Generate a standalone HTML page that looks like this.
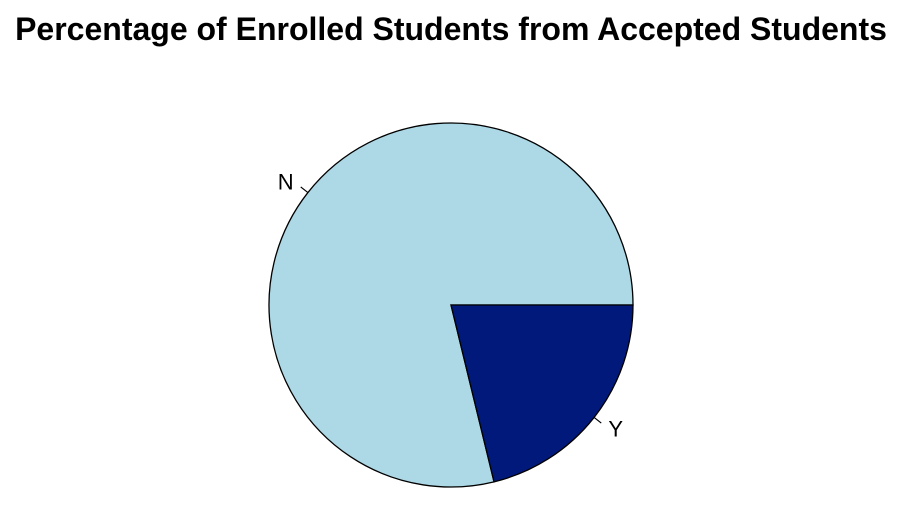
<!DOCTYPE html>
<html>
<head>
<meta charset="utf-8">
<style>
  html,body{margin:0;padding:0;background:#fff;}
  svg{display:block;}
</style>
</head>
<body>
<svg id="chart" width="920" height="522" viewBox="0 0 920 522" xmlns="http://www.w3.org/2000/svg">
  <text x="451" y="40" text-anchor="middle" font-family="Liberation Sans, sans-serif" font-weight="bold" font-size="32" fill="#000">Percentage of Enrolled Students from Accepted Students</text>
  <g id="slices"></g>
  <g id="labels"></g>
</svg>
<script>
const categories = ["N", "Y"];
const values = [78.8, 21.2];
const colors = ["#ADD8E6", "#00197A"];

const cx = 451, cy = 305, r = 182;
const NS = "http://www.w3.org/2000/svg";
const total = values.reduce((a, b) => a + b, 0);
const slicesG = document.getElementById('slices');
const labelsG = document.getElementById('labels');
function pt(ang, rad) { return [cx + rad * Math.cos(ang), cy - rad * Math.sin(ang)]; }

let start = 0;
values.forEach((v, i) => {
  const sweep = v / total * 2 * Math.PI;
  const end = start + sweep;
  const [x1, y1] = pt(start, r);
  const [x2, y2] = pt(end, r);
  const large = sweep > Math.PI ? 1 : 0;
  const p = document.createElementNS(NS, 'path');
  p.setAttribute('d', `M${cx},${cy} L${x1},${y1} A${r},${r} 0 ${large} 0 ${x2},${y2} Z`);
  p.setAttribute('fill', colors[i]);
  p.setAttribute('stroke', '#000');
  p.setAttribute('stroke-width', '1.3');
  
  
  slicesG.appendChild(p);

  const mid = start + sweep / 2;
  const [ax, ay] = pt(mid, r);
  const [bx, by] = pt(mid, r * 1.05);
  const tick = document.createElementNS(NS, 'line');
  tick.setAttribute('x1', ax); tick.setAttribute('y1', ay);
  tick.setAttribute('x2', bx); tick.setAttribute('y2', by);
  tick.setAttribute('stroke', '#000');
  tick.setAttribute('stroke-width', '1.2');
  
  
  labelsG.appendChild(tick);

  const [lx, ly] = pt(mid, r * 1.1);
  const t = document.createElementNS(NS, 'text');
  t.setAttribute('x', lx);
  t.setAttribute('y', ly + 8);
  t.setAttribute('text-anchor', Math.cos(mid) < 0 ? 'end' : 'start');
  t.setAttribute('font-family', 'Liberation Sans, sans-serif');
  t.setAttribute('font-size', '22');
  t.textContent = categories[i];
  
  
  labelsG.appendChild(t);

  start = end;
});
</script>
</body>
</html>
